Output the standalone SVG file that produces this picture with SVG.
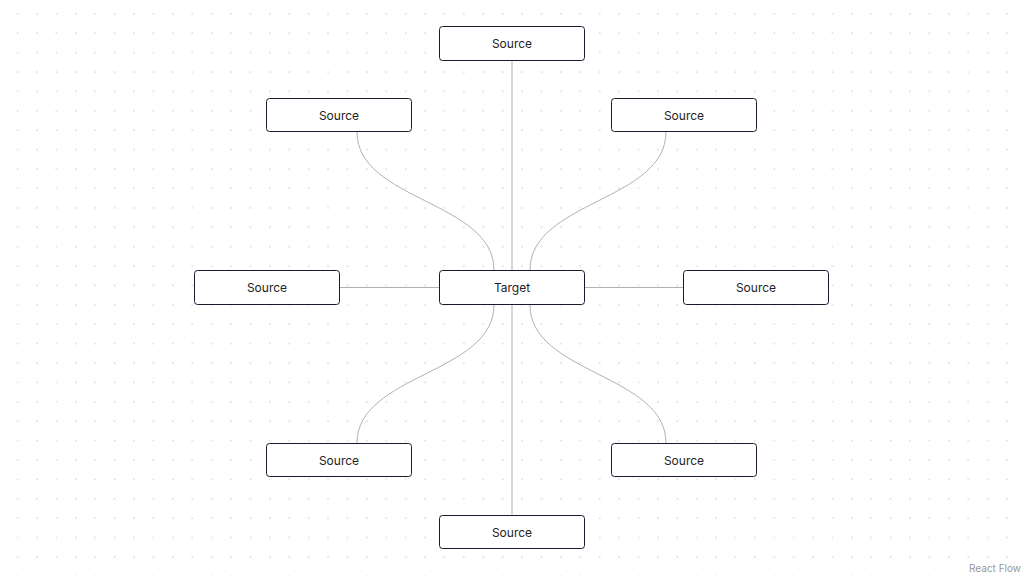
<svg xmlns="http://www.w3.org/2000/svg" width="1024" height="576" viewBox="0 0 1024 576">
  <style>
    .node rect { fill: #ffffff; stroke: #1a192b; stroke-width: 1; }
    .node text { font-family: Inter, "Liberation Sans", sans-serif; font-size: 12px; fill: #222222; text-anchor: middle; dominant-baseline: central; }
    .edge { fill: none; stroke: #b1b1b7; stroke-width: 1; }
    .attr { font-family: Inter, "Liberation Sans", sans-serif; font-size: 10px; fill: #999999; }
  </style>
  <defs>
    <pattern id="dots" x="8" y="4" width="19.4" height="19.4" patternUnits="userSpaceOnUse">
      <circle cx="9.7" cy="9.7" r="0.6" fill="#91919a"/>
    </pattern>
  </defs>
  <rect x="0" y="0" width="1024" height="576" fill="#ffffff"/>
  <rect x="0" y="0" width="1024" height="576" fill="url(#dots)"/>

  <g id="edges">
    <path class="edge" d="M512,61 L512,270"/>
    <path class="edge" d="M357,132 C357,201 494,201 494,270"/>
    <path class="edge" d="M666,132 C666,201 530,201 530,270"/>
    <path class="edge" d="M340,287.5 L439,287.5"/>
    <path class="edge" d="M683,287.5 L585,287.5"/>
    <path class="edge" d="M357,443 C357,374 494,374 494,305"/>
    <path class="edge" d="M666,443 C666,374 530,374 530,305"/>
    <path class="edge" d="M512,515 L512,305"/>
  </g>

  <g id="node-top" class="node">
    <rect x="439.5" y="26.5" width="145" height="34" rx="3"/>
    <text x="512" y="43.5">Source</text>
  </g>
  <g id="node-top-left" class="node">
    <rect x="266.5" y="98.5" width="145" height="33" rx="3"/>
    <text x="339" y="115">Source</text>
  </g>
  <g id="node-top-right" class="node">
    <rect x="611.5" y="98.5" width="145" height="33" rx="3"/>
    <text x="684" y="115">Source</text>
  </g>
  <g id="node-left" class="node">
    <rect x="194.5" y="270.5" width="145" height="34" rx="3"/>
    <text x="267" y="287.5">Source</text>
  </g>
  <g id="node-target" class="node">
    <rect x="439.5" y="270.5" width="145" height="34" rx="3"/>
    <text x="512" y="287.5">Target</text>
  </g>
  <g id="node-right" class="node">
    <rect x="683.5" y="270.5" width="145" height="34" rx="3"/>
    <text x="756" y="287.5">Source</text>
  </g>
  <g id="node-bottom-left" class="node">
    <rect x="266.5" y="443.5" width="145" height="33" rx="3"/>
    <text x="339" y="460.5">Source</text>
  </g>
  <g id="node-bottom-right" class="node">
    <rect x="611.5" y="443.5" width="145" height="33" rx="3"/>
    <text x="684" y="460.5">Source</text>
  </g>
  <g id="node-bottom" class="node">
    <rect x="439.5" y="515.5" width="145" height="33" rx="3"/>
    <text x="512" y="532.5">Source</text>
  </g>

  <g id="attribution">
    <rect x="964" y="560" width="60" height="16" fill="#ffffff" fill-opacity="0.5"/>
    <text class="attr" x="1021" y="572" text-anchor="end">React Flow</text>
  </g>
</svg>
